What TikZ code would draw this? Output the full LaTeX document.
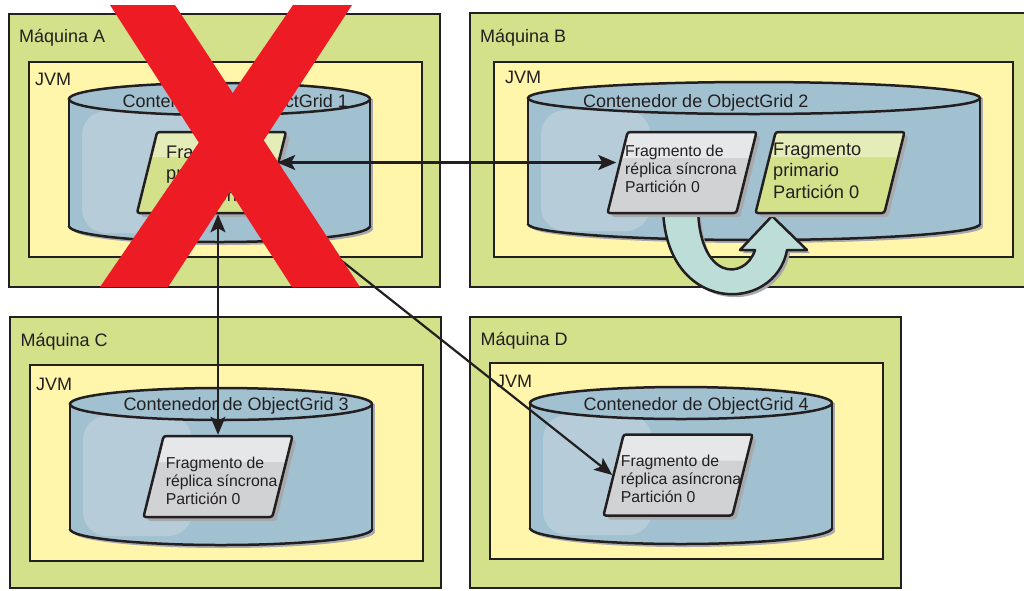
\documentclass[tikz,border=0pt]{standalone}
\usepackage{fontspec}
\setmainfont{Liberation Sans}
\usetikzlibrary{arrows.meta,shapes.geometric,shadows}
\definecolor{ink}{HTML}{231F20}
\definecolor{machgreen}{HTML}{D3E18A}
\definecolor{jvmyellow}{HTML}{FFF6AB}
\definecolor{cylblue}{HTML}{A2C1D0}
\definecolor{cylhi}{HTML}{B6CDD9}
\definecolor{shgrey}{HTML}{D1D2D4}
\definecolor{shgreyhi}{HTML}{E6E7E8}
\definecolor{shgreen}{HTML}{D3E18A}
\definecolor{shgreenhi}{HTML}{E4ECB8}
\definecolor{turn}{HTML}{BDDDD9}
\definecolor{shadowc}{HTML}{A7A9AC}
\definecolor{xred}{HTML}{ED1C24}
\newcommand{\ogcyl}[4]{%
  \pgfmathsetmacro{\cylcx}{(#1+#2)/2}%
  \pgfmathsetmacro{\cylrx}{(#2-#1)/2}%
  \fill[shadowc] (#1+3,#3) rectangle (#2+3,#4+3);
  \fill[shadowc] (\cylcx+3,#4+3) ellipse [x radius=\cylrx, y radius=16];
  \fill[cylblue] (#1,#3) rectangle (#2,#4);
  \fill[cylblue] (\cylcx,#4) ellipse [x radius=\cylrx, y radius=16];
  \fill[cylhi, rounded corners=24pt] (#1+13,#3+12) rectangle (#1+122,#4+7);
  \draw[ink, line width=2.5pt] (#1,#3) -- (#1,#4) (#2,#3) -- (#2,#4);
  \begin{scope}
    \clip (#1-5,#4) rectangle (#2+5,#4+25);
    \draw[ink, line width=2.5pt] (\cylcx,#4) ellipse [x radius=\cylrx, y radius=16];
  \end{scope}
  \filldraw[fill=cylblue, draw=ink, line width=2.5pt] (\cylcx,#3) ellipse [x radius=\cylrx, y radius=16];
}
\begin{document}
\begin{tikzpicture}[x=1pt,y=-1pt,
  machinebox/.style={draw=ink,line width=2.5pt,fill=machgreen,inner sep=0pt},
  jvmbox/.style={draw=ink,line width=2.5pt,fill=jvmyellow,inner sep=0pt},
  boxlabel/.style={anchor=base west,inner sep=0pt,text=ink,font=\fontsize{18}{21}\selectfont},
  shard/.style={trapezium,trapezium left angle=79.5,trapezium right angle=100.5,
    trapezium stretches=true,minimum width=149pt,minimum height=81pt,inner sep=2pt,
    draw=ink,line width=2.5pt,rounded corners=2.5pt,
    drop shadow={shadow xshift=4pt,shadow yshift=-4pt,fill=shadowc,opacity=1}},
  replica/.style={shard,fill=shgrey,path picture={\fill[shgreyhi] (path picture bounding box.north west) rectangle ([yshift=-26pt]path picture bounding box.north east);}},
  primary/.style={shard,fill=shgreen,path picture={\fill[shgreenhi] (path picture bounding box.north west) rectangle ([yshift=-25pt]path picture bounding box.north east);}},
  smalltext/.style={anchor=base west,inner sep=0pt,text=ink,align=left,font=\fontsize{15.8}{18}\selectfont},
  bigtext/.style={anchor=base west,inner sep=0pt,text=ink,align=left,font=\fontsize{18.2}{21.5}\selectfont},
  link/.style={draw=ink,line width=2.2pt},
  tipend/.style={-{Stealth[length=18pt,width=15pt,inset=4pt]}},
  tipboth/.style={{Stealth[length=18pt,width=15pt,inset=4pt]}-{Stealth[length=18pt,width=15pt,inset=4pt]}}
]
\clip (0,0) rectangle (1024,590);
% machines
\node[machinebox, minimum width=431pt, minimum height=273pt] (mA) at (224.5,150.5) {};
\node[machinebox, minimum width=562pt, minimum height=274pt] (mB) at (751,150) {};
\node[machinebox, minimum width=431pt, minimum height=271pt] (mC) at (225.5,452.5) {};
\node[machinebox, minimum width=431pt, minimum height=271pt] (mD) at (685.5,452.5) {};
\node[boxlabel] (lmA) at (19,42) {Máquina A};
\node[boxlabel] (lmB) at (480,42) {Máquina B};
\node[boxlabel] (lmC) at (20.5,346) {Máquina C};
\node[boxlabel] (lmD) at (480.5,345) {Máquina D};
% JVMs
\node[jvmbox, minimum width=393pt, minimum height=195pt] (jA) at (225.5,159.5) {};
\node[jvmbox, minimum width=519pt, minimum height=195pt] (jB) at (753.5,159.5) {};
\node[jvmbox, minimum width=393pt, minimum height=196pt] (jC) at (226.5,463) {};
\node[jvmbox, minimum width=393pt, minimum height=196pt] (jD) at (686.5,461) {};
\node[boxlabel] (ljA) at (35,85.5) {JVM};
\node[boxlabel] (ljB) at (505,83.5) {JVM};
\node[boxlabel] (ljC) at (36,390) {JVM};
\node[boxlabel] (ljD) at (496,387.5) {JVM};
% containers
\ogcyl{69}{370}{99}{226}
\ogcyl{528}{980}{98}{224}
\ogcyl{70}{372}{404}{529}
\ogcyl{530}{832}{403}{528}
\node[boxlabel] (cA) at (122.5,107.5) {Contenedor de ObjectGrid 1};
\node[boxlabel] (cB) at (583,107.5) {Contenedor de ObjectGrid 2};
\node[boxlabel] (cC) at (123.3,410.5) {Contenedor de ObjectGrid 3};
\node[boxlabel] (cD) at (583.3,410) {Contenedor de ObjectGrid 4};
% promotion arrow
\fill[shadowc, xshift=3pt, yshift=-3pt] (663,205) .. controls (663,315) and (775,315) .. (787,250) -- (807,250) -- (772,216) -- (740,250) -- (755,250) .. controls (745,281) and (698,281) .. (698,205) -- cycle;
\draw[fill=turn, draw=ink, line width=2.5pt, line join=round] (663,205) .. controls (663,315) and (775,315) .. (787,250) -- (807,250) -- (772,216) -- (740,250) -- (755,250) .. controls (745,281) and (698,281) .. (698,205) -- cycle;
% shards
\node[primary] (shA) at (211.5,172.5) {};
\node[replica] (shB1) at (682,172.5) {};
\node[primary] (shB2) at (830,172.5) {};
\node[replica] (shC) at (218,476.5) {};
\node[replica] (shD) at (678,475) {};
\node[bigtext] (tA) at (166,201) {Fragmento\\primario\\Partición 0};
\node[smalltext] (tB1) at (625,192) {Fragmento de\\réplica síncrona\\Partición 0};
\node[bigtext] (tB2) at (773,198) {Fragmento\\primario\\Partición 0};
\node[smalltext] (tC) at (165.7,504) {Fragmento de\\réplica síncrona\\Partición 0};
\node[smalltext] (tD) at (620.7,502) {Fragmento de\\réplica asíncrona\\Partición 0};
% replication links
\draw[link, tipboth] ([yshift=10pt]shA.east) -- ([yshift=10pt]shB1.west);
\draw[link, tipboth] (shC.center |- shA.south) -- (shC.center |- shC.north);
\draw[link, tipend] ([xshift=16pt]shA.bottom right corner) -- (shD.west);
% failed machine
\fill[xred] (110,5) -- (175,5) -- (360,287) -- (292,287) -- cycle;
\fill[xred] (293,5) -- (352,5) -- (168,287) -- (100,287) -- cycle;
\end{tikzpicture}
\end{document}
